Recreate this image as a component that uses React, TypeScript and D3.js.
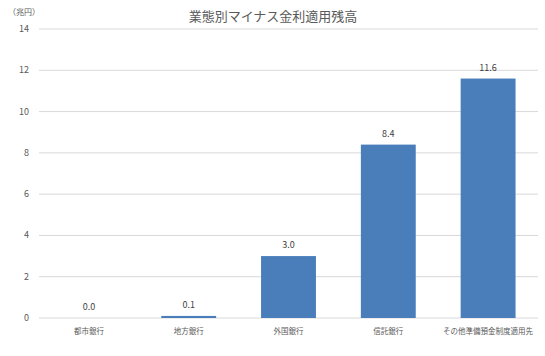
import React from "react";
import * as d3 from "d3";

const categories = ["都市銀行", "地方銀行", "外国銀行", "信託銀行", "その他準備預金制度適用先"];
const values = [0.0, 0.1, 3.0, 8.4, 11.6];
const yTicks = [0, 2, 4, 6, 8, 10, 12, 14];
const title = "業態別マイナス金利適用残高";
const unitLabel = "（兆円）";

const W = 545;
const H = 356;
const margin = { left: 39, right: 7, top: 29, bottom: 38 };
const font = "'Noto Sans CJK JP', 'Noto Sans', sans-serif";

export default function App() {
  const x = d3
    .scaleBand<string>()
    .domain(categories)
    .range([margin.left, W - margin.right])
    .paddingInner(0.45)
    .paddingOuter(0.225);
  const y = d3.scaleLinear().domain([0, 14]).range([H - margin.bottom, margin.top]);

  return (
    <svg
      width={W}
      height={H}
      style={{ position: "absolute", left: 0, top: 0, background: "#fff" }}
      fontFamily={font}
    >
      <text x={273} y={21} textAnchor="middle" fontSize={13} fill="#595959">
        {title}
      </text>
      <text x={24} y={15} textAnchor="middle" fontSize={8} fill="#595959">
        {unitLabel}
      </text>
      {yTicks.map((t) => (
        <g key={t}>
          <line
            x1={margin.left}
            x2={W - margin.right}
            y1={y(t)}
            y2={y(t)}
            stroke="#d9d9d9"
            strokeWidth={1}
          />
          <text x={29} y={y(t) + 3} textAnchor="end" fontSize={9} fill="#595959">
            {t}
          </text>
        </g>
      ))}
      {categories.map((c, i) => {
        const bx = x(c)!;
        const bw = x.bandwidth();
        const top = y(values[i]);
        return (
          <g key={c}>
            <rect x={bx} y={top} width={bw} height={y(0) - top} fill="#4a7ebb" />
            <text
              x={bx + bw / 2}
              y={top - 8}
              textAnchor="middle"
              fontSize={9}
              fill="#404040"
            >
              {values[i].toFixed(1)}
            </text>
            <text
              x={bx + bw / 2}
              y={y(0) + 16}
              textAnchor="middle"
              fontSize={7.5}
              fill="#595959"
            >
              {c}
            </text>
          </g>
        );
      })}
    </svg>
  );
}
